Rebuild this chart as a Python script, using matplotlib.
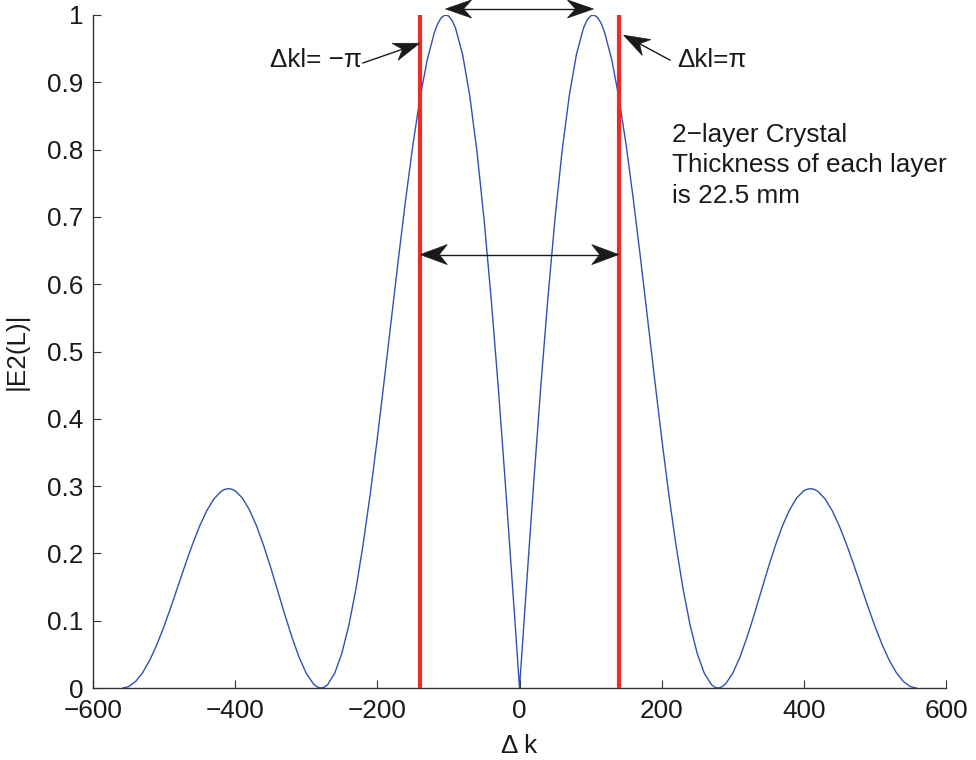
import matplotlib
matplotlib.use("Agg")
import matplotlib.pyplot as plt
from matplotlib.patches import Polygon
from matplotlib.lines import Line2D
from matplotlib.transforms import IdentityTransform
import numpy as np

plt.rcParams['font.family'] = ['Liberation Sans', 'DejaVu Sans']

# ---- data ----
delta_k = [-558, -550, -540, -530, -520, -510, -500, -490, -480, -470, -460, -450, -440, -430,
           -420, -415, -410, -405, -400, -390, -380, -370, -360, -350, -340, -330, -320, -310,
           -300, -290, -285, -280, -275, -270, -260, -250, -240, -230, -220, -210, -200, -190,
           -180, -170, -160, -150, -140, -130, -120, -115, -110, -105, -100, -95, -90, -80,
           -70, -60, -50, -40, -30, -20, -10, -5,
           0,
           5, 10, 20, 30, 40, 50, 60, 70, 80, 90, 95, 100, 105, 110, 115, 120, 130, 140, 150,
           160, 170, 180, 190, 200, 210, 220, 230, 240, 250, 260, 270, 275, 280, 285, 290,
           300, 310, 320, 330, 340, 350, 360, 370, 380, 390, 400, 405, 410, 415, 420, 430,
           440, 450, 460, 470, 480, 490, 500, 510, 520, 530, 540, 550, 558]
e2_abs = [0.0000, 0.0020, 0.0097, 0.0230, 0.0416, 0.0648, 0.0918, 0.1215, 0.1529, 0.1839,
          0.2136, 0.2406, 0.2633, 0.2808, 0.2920, 0.2950, 0.2962, 0.2955, 0.2931, 0.2825,
          0.2649, 0.2410, 0.2119, 0.1790, 0.1439, 0.1085, 0.0751, 0.0455, 0.0219, 0.0062,
          0.0018, 0.0000, 0.0010, 0.0049, 0.0218, 0.0513, 0.0934, 0.1478, 0.2133, 0.2881,
          0.3713, 0.4600, 0.5504, 0.6408, 0.7271, 0.8069, 0.8762, 0.9326, 0.9732, 0.9873,
          0.9961, 0.9998, 0.9987, 0.9922, 0.9806, 0.9409, 0.8801, 0.7987, 0.6979, 0.5802,
          0.4484, 0.3053, 0.1546, 0.0776,
          0.0000,
          0.0776, 0.1546, 0.3053, 0.4484, 0.5802, 0.6979, 0.7987, 0.8801, 0.9409, 0.9806,
          0.9922, 0.9987, 0.9998, 0.9961, 0.9873, 0.9732, 0.9326, 0.8762, 0.8069, 0.7271,
          0.6408, 0.5504, 0.4600, 0.3713, 0.2881, 0.2133, 0.1478, 0.0934, 0.0513, 0.0218,
          0.0049, 0.0010, 0.0000, 0.0018, 0.0062, 0.0219, 0.0455, 0.0751, 0.1085, 0.1439,
          0.1790, 0.2119, 0.2410, 0.2649, 0.2825, 0.2931, 0.2955, 0.2962, 0.2950, 0.2920,
          0.2808, 0.2633, 0.2406, 0.2136, 0.1839, 0.1529, 0.1215, 0.0918, 0.0648, 0.0416,
          0.0230, 0.0097, 0.0020, 0.0000]
pi_lines = [-139.6, 139.6]           # Δkl = -π and Δkl = π
peak_positions = [-104, 104]
x_ticks = [-600, -400, -200, 0, 200, 400, 600]
x_tick_labels = ['\u2212600', '\u2212400', '\u2212200', '0', '200', '400', '600']
y_ticks = [0, 0.1, 0.2, 0.3, 0.4, 0.5, 0.6, 0.7, 0.8, 0.9, 1]
y_tick_labels = ['0', '0.1', '0.2', '0.3', '0.4', '0.5', '0.6', '0.7', '0.8', '0.9', '1']
info_lines = ['2\u2212layer Crystal', 'Thickness of each layer', 'is 22.5 mm']

FS = 18.8
fig = plt.figure(figsize=(9.76, 7.6), dpi=100)
ax = fig.add_axes([93/976, 72/760, 853/976, 673/760])

ax.plot(delta_k, e2_abs, color='#3050b4', lw=1.0, zorder=2)
for xv in pi_lines:
    ax.plot([xv, xv], [0, 1], color='#ec2a26', lw=3.0, solid_capstyle='butt', zorder=3, clip_on=False)

ax.set_xlim(-600, 600)
ax.set_ylim(0, 1)
ax.set_xticks(x_ticks)
ax.set_xticklabels(x_tick_labels)
ax.set_yticks(y_ticks)
ax.set_yticklabels(y_tick_labels)
ax.tick_params(direction='in', length=6, width=0.8, labelsize=FS, color='#333333', labelcolor='#1a1a1a')
ax.tick_params(axis='x', pad=8)
ax.tick_params(axis='y', pad=7)
for s in ['top', 'right']:
    ax.spines[s].set_visible(False)
for s in ['left', 'bottom']:
    ax.spines[s].set_color('#333333')
    ax.spines[s].set_linewidth(1.0)

ax.set_xlabel('\u0394 k', fontsize=FS, labelpad=8, color='#1a1a1a')
ax.set_ylabel('|E2(L)|', fontsize=FS, labelpad=13, color='#1a1a1a')


def head(tip, back_dir, L, W, N):
    tip = np.asarray(tip, float)
    u = np.asarray(back_dir, float)
    u = u / np.hypot(*u)
    n = np.array([-u[1], u[0]])
    pts = [tip, tip + L*u + W*n, tip + (L-N)*u, tip + L*u - W*n]
    ax.add_patch(Polygon(pts, closed=True, transform=IdentityTransform(), facecolor='#1a1a1a',
                         edgecolor='#1a1a1a', lw=0.5, clip_on=False, zorder=5))
    return tip + (L-N)*u


def arrow(p0, p1, both=False, L=26, W=9, N=8):
    a = ax.transData.transform(p0)
    b = ax.transData.transform(p1)
    d = b - a
    end = head(b, -d, L, W, N)
    start = a
    if both:
        start = head(a, d, L, W, N)
    ax.add_line(Line2D([start[0], end[0]], [start[1], end[1]], transform=IdentityTransform(),
                       color='#1a1a1a', lw=1.0, clip_on=False, zorder=5))


# arrows between peaks and between the π-lines
arrow((peak_positions[0], 1.009), (peak_positions[1], 1.009), both=True, L=26, W=9, N=8)
arrow((pi_lines[0], 0.644), (pi_lines[1], 0.644), both=True, L=27, W=10, N=8)
# label arrows
arrow((-220.2, 0.9287), (-140.5, 0.958))
arrow((211.7, 0.933), (146.5, 0.970))

ax.text(-221.6, 0.9227, '\u0394kl= \u2212\u03c0', fontsize=FS, ha='right', va='baseline', color='#1a1a1a')
ax.text(221.6, 0.9227, '\u0394kl=\u03c0', fontsize=FS, ha='left', va='baseline', color='#1a1a1a')
for line, yb in zip(info_lines, [0.8113, 0.766, 0.7207]):
    ax.text(214.6, yb, line, fontsize=FS, ha='left', va='baseline', color='#1a1a1a')

fig.savefig('out.png', dpi=100)
